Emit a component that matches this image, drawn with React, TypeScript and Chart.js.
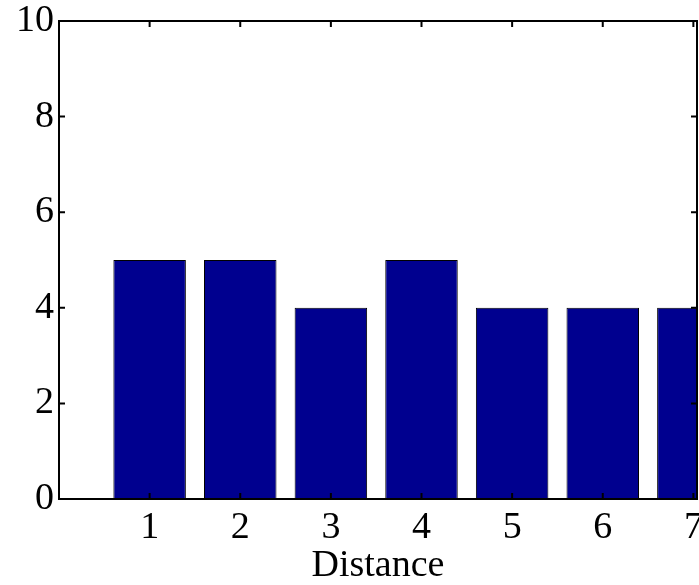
import React, { useEffect, useRef } from "react";
import { Chart, registerables } from "chart.js";

Chart.register(...registerables);

const categories = [1, 2, 3, 4, 5, 6, 7];
const counts = [5, 5, 4, 5, 4, 4, 4];
const xTicks = [1, 2, 3, 4, 5, 6, 7];
const yTicks = [0, 2, 4, 6, 8, 10];
const xLabel = "Distance";

const FONT = "'Liberation Serif', 'Times New Roman', serif";

const boxPlugin = {
  id: "matlabBox",
  afterDatasetsDraw(chart: any) {
    const { ctx, chartArea } = chart;
    const { left, right, top, bottom } = chartArea;
    const xs = chart.scales.x;
    const ys = chart.scales.y;
    ctx.save();
    ctx.strokeStyle = "#000";
    ctx.lineWidth = 2;
    ctx.strokeRect(left, top, right - left, bottom - top);
    const tl = 6;
    ctx.beginPath();
    for (const v of yTicks) {
      const py = ys.getPixelForValue(v);
      ctx.moveTo(left, py);
      ctx.lineTo(left + tl, py);
      ctx.moveTo(right, py);
      ctx.lineTo(right - tl, py);
    }
    for (const v of xTicks) {
      const px = xs.getPixelForValue(v);
      ctx.moveTo(px, bottom);
      ctx.lineTo(px, bottom - tl);
      ctx.moveTo(px, top);
      ctx.lineTo(px, top + tl);
    }
    ctx.stroke();
    ctx.restore();
  },
};

export default function App() {
  const ref = useRef<HTMLCanvasElement | null>(null);
  useEffect(() => {
    document.body.style.margin = "0";
    const canvas = ref.current!;
    const chart = new Chart(canvas, {
      type: "bar",
      data: {
        datasets: [
          {
            data: categories.map((c, i) => ({ x: c, y: counts[i] })),
            backgroundColor: "rgb(0,0,143)",
            borderColor: "#000",
            borderWidth: 1,
            barPercentage: 1,
            categoryPercentage: 0.8,
          },
        ],
      },
      options: {
        responsive: false,
        animation: false,
        layout: { padding: { top: 21, right: 2, left: 0, bottom: 0 } },
        plugins: {
          legend: { display: false },
          tooltip: { enabled: false },
        },
        scales: {
          x: {
            type: "linear",
            min: 0,
            max: 7.04,
            offset: false,
            afterBuildTicks: (s: any) => {
              s.ticks = xTicks.map((v) => ({ value: v }));
            },
            afterFit: (s: any) => {
              s.height = 86;
              s.paddingLeft = 0;
              s.paddingRight = 0;
            },
            grid: { display: false, drawTicks: false, offset: false },
            border: { display: false },
            ticks: {
              autoSkip: false,
              maxRotation: 0,
              padding: 6,
              color: "#000",
              font: { family: FONT, size: 38 },
              callback: (v: any) => String(v),
            },
            title: {
              display: true,
              text: xLabel,
              color: "#000",
              font: { family: FONT, size: 38, lineHeight: 1.0 },
              padding: { top: 0, bottom: 0 },
            },
          },
          y: {
            type: "linear",
            min: 0,
            max: 10,
            afterBuildTicks: (s: any) => {
              s.ticks = yTicks.map((v) => ({ value: v }));
            },
            afterFit: (s: any) => {
              s.width = 59;
              s.paddingTop = 0;
              s.paddingBottom = 0;
            },
            grid: { display: false, drawTicks: false },
            border: { display: false },
            ticks: {
              padding: 5,
              color: "#000",
              font: { family: FONT, size: 38 },
              callback: (v: any) => String(v),
            },
          },
        },
      },
      plugins: [boxPlugin],
    });
    return () => chart.destroy();
  }, []);
  return (
    <div style={{ width: 699, height: 585, background: "#fff" }}>
      <canvas ref={ref} width={699} height={585} style={{ display: "block" }} />
    </div>
  );
}
